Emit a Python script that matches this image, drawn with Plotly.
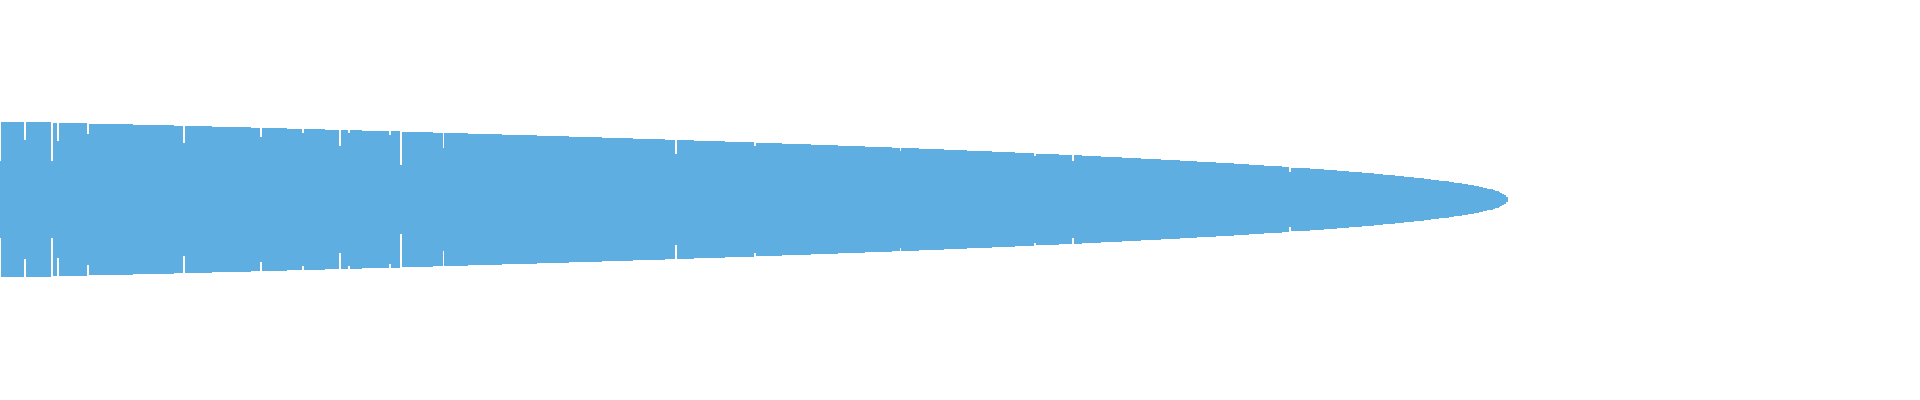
import plotly.graph_objects as go

# envelope of the sorted values: each level holds for a run of consecutive ranks
levels = [155, 153, 151, 149, 147, 145, 143, 141, 139, 137,
          135, 133, 131, 129, 127, 125, 123, 121, 119, 117,
          115, 113, 111, 109, 107, 105, 103, 101, 99, 97,
          95, 93, 91, 89, 87, 85, 83, 81, 79, 77,
          75, 73, 71, 69, 67, 65, 63, 61, 59, 57,
          55, 53, 51, 49, 47, 45, 43, 41, 39, 37,
          35, 33, 31, 29, 27, 25, 23, 21, 19, 17,
          15, 13, 11, 9, 5]
run_lengths = [28, 19, 23, 21, 20, 20, 19, 20, 19, 20,
               17, 18, 18, 18, 17, 17, 16, 17, 15, 16,
               15, 15, 15, 14, 14, 14, 14, 13, 12, 13,
               12, 11, 12, 12, 10, 11, 10, 10, 10, 9,
               10, 9, 8, 8, 9, 5, 10, 7, 7, 6,
               7, 6, 5, 6, 5, 5, 5, 4, 4, 5,
               3, 4, 3, 3, 3, 2, 2, 3, 1, 2,
               1, 1, 1, 1, 1]

# ranks that fall well below their neighbours
dip_ranks = [1, 14, 28, 31, 47, 97, 137, 159, 178, 183,
             204, 210, 232, 353, 394, 470, 540, 560, 673]
dip_values = [77, 119, 77, 117, 131, 113, 125, 133, 107, 133,
              129, 69, 103, 91, 107, 97, 87, 77, 55]

values = []
for lvl, n in zip(levels, run_lengths):
    values += [lvl] * n
for r, v in zip(dip_ranks, dip_values):
    values[r - 1] = v
ranks = list(range(1, len(values) + 1))

fig = go.Figure(go.Funnel(
    x=ranks,
    y=values,
    orientation="v",
    marker=dict(color="rgba(93,173,226,0.99)"),
    connector=dict(visible=False),
    textinfo="none",
    hoverinfo="x+y",
))

fig.update_layout(
    width=1920,
    height=400,
    margin=dict(l=0, r=0, t=0, b=0),
    paper_bgcolor="white",
    plot_bgcolor="white",
    funnelgap=0,
    showlegend=False,
    xaxis=dict(visible=False, range=[1, 1001]),
    yaxis=dict(visible=False, range=[-200.5, 199.5]),
)

# page margin off so the chart sits flush with the window, no toolbar
fig.write_html("out.html",
               config={"displayModeBar": False},
               post_script="document.body.style.margin = '0';")
